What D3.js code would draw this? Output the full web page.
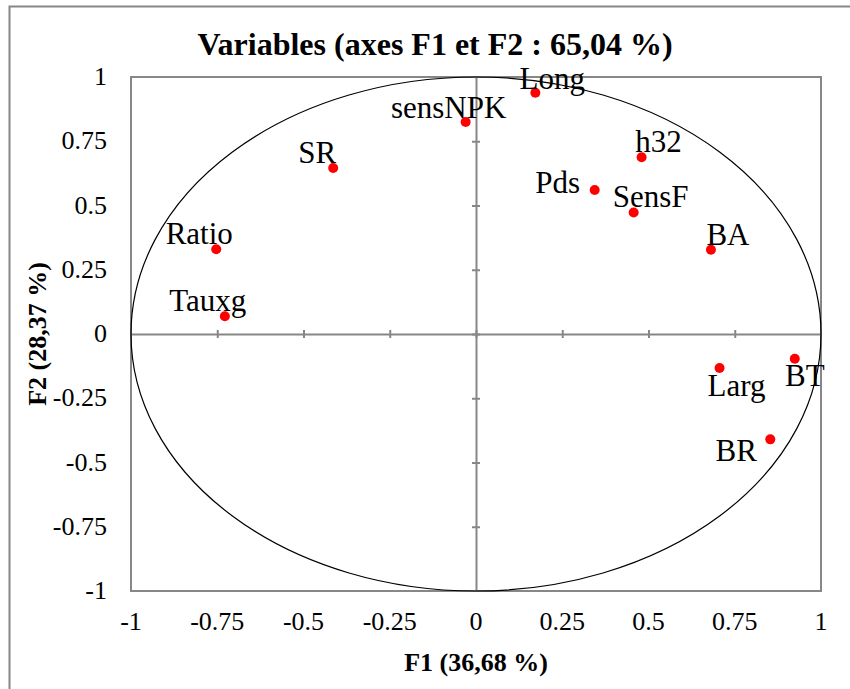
<!DOCTYPE html>
<html>
<head>
<meta charset="utf-8">
<script src="https://cdn.jsdelivr.net/npm/d3@7"></script>
<style>
  body { margin: 0; background: #fff; }
  svg { display: block; font-family: "Liberation Serif", "Times New Roman", serif; }
</style>
</head>
<body>
<svg id="chart" width="850" height="689"></svg>
<script>
// variables de l'ACP (coordonnées sur F1 et F2)
var varNames = ["Ratio", "Tauxg", "SR", "sensNPK", "Long", "Pds", "h32", "SensF", "BA", "Larg", "BT", "BR"];
var f1Values = [-0.753, -0.728, -0.414, -0.030, 0.172, 0.344, 0.480, 0.457, 0.681, 0.706, 0.924, 0.853];
var f2Values = [0.330, 0.069, 0.646, 0.825, 0.939, 0.560, 0.688, 0.473, 0.328, -0.132, -0.096, -0.410];

var tickValues = [-1, -0.75, -0.5, -0.25, 0, 0.25, 0.5, 0.75, 1];

var chartTitle = "Variables (axes F1 et F2 : 65,04 %)";
var xTitle = "F1 (36,68 %)";
var yTitle = "F2 (28,37 %)";

// décalage des étiquettes par rapport au point (mise en page seulement)
var labelShift = {
  Ratio: [-17, -5], Tauxg: [-17, -5], SR: [-16, -5], sensNPK: [-17, -4],
  Long: [17, -4], Pds: [-37, 3], h32: [17, -5], SensF: [17, -5],
  BA: [17, -5], Larg: [17, 28], BT: [10, 27], BR: [-34, 22]
};

var svg = d3.select("#chart");

var plotLeft = 131, plotRight = 821, plotTop = 77, plotBottom = 591;

var x = d3.scaleLinear().domain([-1, 1]).range([plotLeft, plotRight]);
var y = d3.scaleLinear().domain([-1, 1]).range([plotBottom, plotTop]);

var gray = "#878787";

// cadre extérieur
svg.append("path")
  .attr("d", "M9.5,689V6.5H850")
  .attr("fill", "none")
  .attr("stroke", gray)
  .attr("stroke-width", 2);

// zone de tracé
svg.append("rect")
  .attr("x", plotLeft).attr("y", plotTop)
  .attr("width", plotRight - plotLeft).attr("height", plotBottom - plotTop)
  .attr("fill", "none")
  .attr("stroke", gray)
  .attr("stroke-width", 2);

// axes au centre avec graduations traversantes
var xAxisCenter = svg.append("g")
  .attr("transform", "translate(0," + y(0) + ")")
  .call(d3.axisBottom(x).tickValues(tickValues).tickSize(8).tickSizeOuter(0).tickFormat(""));
xAxisCenter.selectAll(".tick line").attr("y1", -4).attr("y2", 4);

var yAxisCenter = svg.append("g")
  .attr("transform", "translate(" + x(0) + ",0)")
  .call(d3.axisLeft(y).tickValues(tickValues).tickSize(8).tickSizeOuter(0).tickFormat(""));
yAxisCenter.selectAll(".tick line").attr("x1", -4).attr("x2", 4);

svg.selectAll(".domain, .tick line")
  .attr("stroke", gray)
  .attr("stroke-width", 2);
// pas de graduation aux bords
xAxisCenter.selectAll(".tick").filter(function(d) { return Math.abs(d) === 1; }).select("line").remove();
yAxisCenter.selectAll(".tick").filter(function(d) { return Math.abs(d) === 1; }).select("line").remove();

// étiquettes des graduations
svg.append("g")
  .selectAll("text")
  .data(tickValues)
  .enter()
  .append("text")
    .attr("x", function(d) { return x(d); })
    .attr("y", 630)
    .attr("text-anchor", "middle")
    .style("font-size", "26px")
    .text(function(d) { return String(d); });

svg.append("g")
  .selectAll("text")
  .data(tickValues)
  .enter()
  .append("text")
    .attr("x", 107)
    .attr("y", function(d) { return y(d) + 8; })
    .attr("text-anchor", "end")
    .style("font-size", "26px")
    .text(function(d) { return String(d); });

// cercle des corrélations
svg.append("ellipse")
  .attr("cx", x(0)).attr("cy", y(0))
  .attr("rx", x(1) - x(0)).attr("ry", y(0) - y(1))
  .attr("fill", "none")
  .attr("stroke", "#000")
  .attr("stroke-width", 1.2);

// points
var points = varNames.map(function(n, i) { return { name: n, f1: f1Values[i], f2: f2Values[i] }; });

svg.selectAll("circle.pt")
  .data(points)
  .enter()
  .append("circle")
    .attr("class", "pt")
    .attr("cx", function(d) { return x(d.f1); })
    .attr("cy", function(d) { return y(d.f2); })
    .attr("r", 5)
    .attr("fill", "#ff0000");

svg.selectAll("text.lbl")
  .data(points)
  .enter()
  .append("text")
    .attr("class", "lbl")
    .attr("x", function(d) { return x(d.f1) + labelShift[d.name][0]; })
    .attr("y", function(d) { return y(d.f2) + labelShift[d.name][1]; })
    .attr("text-anchor", "middle")
    .style("font-size", "31px")
    .text(function(d) { return d.name; });

// titres
svg.append("text")
  .attr("x", 435).attr("y", 55)
  .attr("text-anchor", "middle")
  .style("font-size", "32px")
  .style("font-weight", "bold")
  .text(chartTitle);

svg.append("text")
  .attr("x", (plotLeft + plotRight) / 2).attr("y", 671)
  .attr("text-anchor", "middle")
  .style("font-size", "26px")
  .style("font-weight", "bold")
  .text(xTitle);

svg.append("text")
  .attr("transform", "translate(46," + (plotTop + plotBottom) / 2 + ") rotate(-90)")
  .attr("text-anchor", "middle")
  .style("font-size", "26px")
  .style("font-weight", "bold")
  .text(yTitle);
</script>
</body>
</html>
